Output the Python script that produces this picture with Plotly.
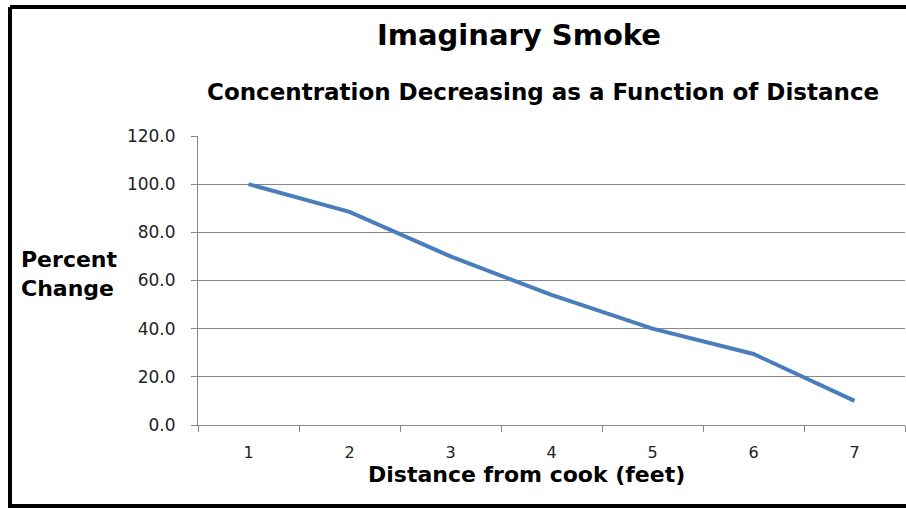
import plotly.graph_objects as go

# ---- data ----
distance_labels = ["1", "2", "3", "4", "5", "6", "7"]
percent_change = [100.0, 88.5, 70.0, 54.0, 40.0, 29.5, 10.0]
y_ticks = [0, 20, 40, 60, 80, 100, 120]

title_text = "Imaginary Smoke"
subtitle_text = "Concentration Decreasing as a Function of Distance"
x_title = "Distance from cook (feet)"
y_title = "Percent<br>Change"

# ---- layout geometry (pixels) ----
W, H = 906, 508
L, R, T, B = 198, 1, 136, 83
PW = W - L - R
PH = H - T - B


def px(x):
    return (x - L) / PW


def py(y):
    return (H - B - y) / PH


GRID = "#878787"
FONT = "DejaVu Sans"

fig = go.Figure()
fig.add_trace(go.Scatter(
    x=distance_labels, y=percent_change, mode="lines",
    line=dict(color="#4A7EBB", width=4),
    showlegend=False, hoverinfo="x+y",
))

fig.update_layout(
    width=W, height=H,
    margin=dict(l=L, r=R, t=T, b=B, pad=0),
    paper_bgcolor="white", plot_bgcolor="white",
    font=dict(family=FONT, color="#222222"),
    showlegend=False,
    xaxis=dict(
        type="category", tickson="boundaries", ticks="outside", ticklen=6,
        tickcolor=GRID, showline=True, linecolor=GRID, linewidth=1,
        showgrid=False, zeroline=False, range=[-0.5, 6.5],
        tickfont=dict(family=FONT, size=16, color="#222222"),
        ticklabelstandoff=13,
    ),
    yaxis=dict(
        range=[0, 120], tickvals=y_ticks, tickformat=".1f",
        ticks="outside", ticklen=6, tickcolor=GRID,
        showline=True, linecolor=GRID, linewidth=1,
        showgrid=True, gridcolor=GRID, gridwidth=1, zeroline=False,
        tickfont=dict(family=FONT, size=17, color="#222222"),
        ticklabelstandoff=12,
    ),
)

annotations = [
    dict(text="<b>" + title_text + "</b>", x=px(518.5), y=py(35),
         font=dict(family=FONT, size=29, color="black")),
    dict(text="<b>" + subtitle_text + "</b>", x=px(542.5), y=py(92),
         font=dict(family=FONT, size=23, color="black")),
    dict(text="<b>" + x_title + "</b>", x=px(526), y=py(474.5),
         font=dict(family=FONT, size=22, color="black")),
    dict(text="<b>" + y_title + "</b>", x=px(19), y=py(274), xanchor="left",
         align="left", font=dict(family=FONT, size=22, color="black")),
]
for a in annotations:
    a.setdefault("xanchor", "center")
    a.update(xref="paper", yref="paper", yanchor="middle", showarrow=False)
fig.update_layout(annotations=annotations)

# chart border (top, left, bottom; right side is cropped off in the original)
border = dict(color="black", width=4)
fig.add_shape(type="line", xref="paper", yref="paper",
              x0=px(10), x1=px(910), y0=py(7), y1=py(7), line=border)
fig.add_shape(type="line", xref="paper", yref="paper",
              x0=px(10), x1=px(10), y0=py(7), y1=py(506), line=border)
fig.add_shape(type="line", xref="paper", yref="paper",
              x0=px(8), x1=px(910), y0=py(506), y1=py(506), line=border)

fig.write_html(
    "out.html",
    config={"displayModeBar": False},
    post_script="document.body.style.margin='0';document.body.style.padding='0';"
                "document.body.style.overflow='hidden';",
)
